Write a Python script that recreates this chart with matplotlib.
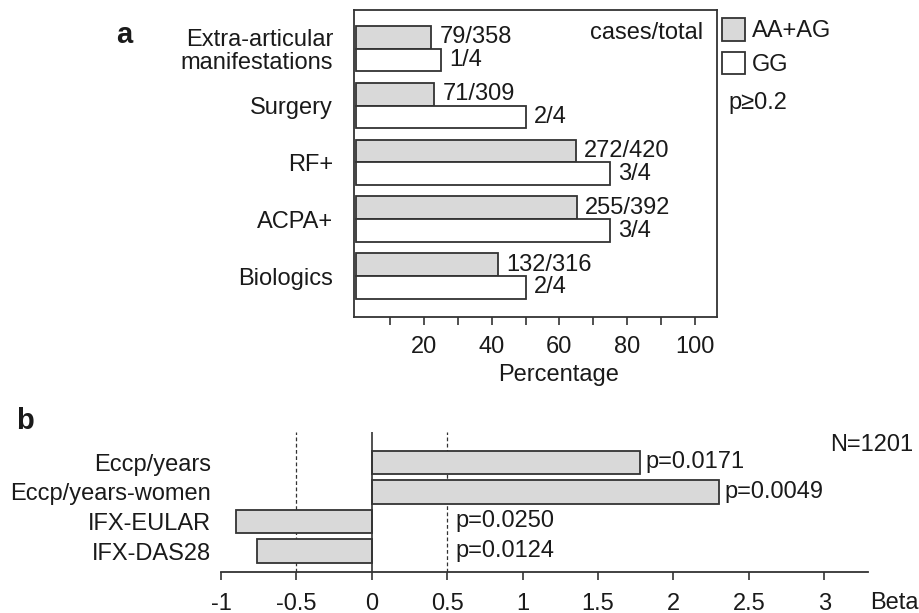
import numpy as np
import matplotlib.pyplot as plt
from matplotlib.patches import Patch

plt.rcParams['font.family'] = ['Liberation Sans', 'DejaVu Sans']

# ----------------------------
# Data
# ----------------------------
# panel a
traits = ["Extra-articular\nmanifestations", "Surgery", "RF+", "ACPA+", "Biologics"]
pct_aa_ag = [22.1, 23.0, 64.8, 65.1, 41.8]
pct_gg = [25.0, 50.0, 75.0, 75.0, 50.0]
lbl_aa_ag = ["79/358", "71/309", "272/420", "255/392", "132/316"]
lbl_gg = ["1/4", "2/4", "3/4", "3/4", "2/4"]
pct_ticks = [10, 20, 30, 40, 50, 60, 70, 80, 90, 100]

# panel b
outcomes = ["Eccp/years", "Eccp/years-women", "IFX-EULAR", "IFX-DAS28"]
beta = [1.78, 2.30, -0.90, -0.76]
pvals = ["p=0.0171", "p=0.0049", "p=0.0250", "p=0.0124"]
beta_ticks = [-1, -0.5, 0, 0.5, 1, 1.5, 2, 2.5, 3]

W, H = 919, 613
ink = "#1a1a1a"
edge = "#333333"
fill = "#d9d9d9"
fs = 17


def fx(x):
    return x / W


def fy(y):
    return 1 - y / H


fig = plt.figure(figsize=(W / 100, H / 100), dpi=100)

# ----------------------------
# Panel a
# ----------------------------
ax = fig.add_axes([fx(354), fy(317), fx(717) - fx(354), fy(10) - fy(317)])
pos = np.arange(len(traits))
bh = 0.4
ax.barh(pos - bh / 2, pct_aa_ag, height=bh, color=fill, edgecolor=edge, lw=1.3)
ax.barh(pos + bh / 2, pct_gg, height=bh, color="white", edgecolor=edge, lw=1.3)
ax.set_xlim(-0.6, 106.5)
ax.set_ylim(4.72, -0.68)

for i in range(len(traits)):
    ax.annotate(lbl_aa_ag[i], (pct_aa_ag[i], pos[i] - bh / 2), xytext=(6, 0),
                textcoords="offset points", va="center", fontsize=fs, color=ink)
    ax.annotate(lbl_gg[i], (pct_gg[i], pos[i] + bh / 2), xytext=(6, 0),
                textcoords="offset points", va="center", fontsize=fs, color=ink)

ax.set_xticks(pct_ticks)
ax.set_xticklabels([str(t) if t % 20 == 0 else "" for t in pct_ticks])
ax.set_yticks(pos)
ax.set_yticklabels(traits)
for lab in ax.get_yticklabels():
    lab.set_linespacing(1.05)
ax.tick_params(axis="x", direction="out", length=6, width=1.2, color=edge,
               labelsize=fs, labelcolor=ink, pad=8)
ax.tick_params(axis="y", length=0, labelsize=fs, labelcolor=ink, pad=15)
for s in ax.spines.values():
    s.set_color(edge)
    s.set_linewidth(1.3)

fig.text(fx(559), fy(375), "Percentage", ha="center", va="center", fontsize=fs, color=ink)
fig.text(fx(703), fy(33), "cases/total", ha="right", va="center", fontsize=fs, color=ink)
fig.text(fx(124), fy(35), "a", ha="center", va="center", fontsize=21,
         fontweight="bold", color=ink)

handles = [Patch(facecolor=fill, edgecolor=edge, lw=1.3, label="AA+AG"),
           Patch(facecolor="white", edgecolor=edge, lw=1.3, label="GG")]
fig.legend(handles=handles, loc="upper left", bbox_to_anchor=(fx(722), fy(18)),
           frameon=False, fontsize=fs, handlelength=0.97, handleheight=1.1,
           handletextpad=0.3, labelspacing=0.4, borderpad=0, borderaxespad=0,
           labelcolor=ink)
fig.text(fx(728), fy(103), "p\u22650.2", ha="left", va="center", fontsize=fs, color=ink)

# ----------------------------
# Panel b
# ----------------------------
bx = fig.add_axes([fx(221), fy(572), fx(868) - fx(221), fy(432) - fy(572)])
ypos = np.arange(len(outcomes))
bx.barh(ypos, beta, height=0.8, color=fill, edgecolor=edge, lw=1.3, zorder=2)
bx.set_xlim(-1, 3.29)
bx.set_ylim(3.71, -1.03)
bx.axvline(0, color=edge, lw=1.2, zorder=3)
for v in (-0.5, 0.5):
    bx.axvline(v, color=edge, lw=0.9, ls=(0, (3, 2)), zorder=1)

for i in range(len(outcomes)):
    bx.annotate(pvals[i], (max(beta[i], 0.5), ypos[i]),
                xytext=(4 if beta[i] > 0.5 else 6, 0),
                textcoords="offset points", va="center", fontsize=fs, color=ink)

bx.set_xticks(beta_ticks)
bx.set_xticklabels([f"{t:g}" for t in beta_ticks])
bx.set_yticks(ypos)
bx.set_yticklabels(outcomes)
bx.tick_params(axis="x", direction="out", length=6, width=1.2, color=edge,
               labelsize=fs, labelcolor=ink, pad=9)
bx.tick_params(axis="y", length=0, labelsize=fs, labelcolor=ink, pad=7)
for side in ("top", "right", "left"):
    bx.spines[side].set_visible(False)
bx.spines["bottom"].set_color(edge)
bx.spines["bottom"].set_linewidth(1.3)

fig.text(fx(870), fy(603), "Beta", ha="left", va="center", fontsize=fs, color=ink)
fig.text(fx(913), fy(445), "N=1201", ha="right", va="center", fontsize=fs, color=ink)
fig.text(fx(25), fy(421), "b", ha="center", va="center", fontsize=21,
         fontweight="bold", color=ink)

fig.savefig("out.png", dpi=100)
